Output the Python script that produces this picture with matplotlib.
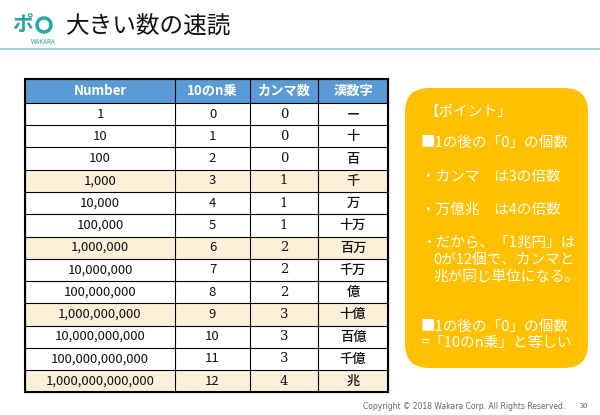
import matplotlib.pyplot as plt
from matplotlib.patches import Rectangle, FancyBboxPatch, Circle

plt.rcParams['font.family'] = ['Noto Sans CJK JP', 'DejaVu Sans']

headers = ["Number", "10のn乗", "カンマ数", "漢数字"]
numbers = ["1", "10", "100", "1,000", "10,000", "100,000", "1,000,000",
           "10,000,000", "100,000,000", "1,000,000,000", "10,000,000,000",
           "100,000,000,000", "1,000,000,000,000"]
powers = [0, 1, 2, 3, 4, 5, 6, 7, 8, 9, 10, 11, 12]
commas = [0, 0, 0, 1, 1, 1, 2, 2, 2, 3, 3, 3, 4]
kanji = ["ー", "十", "百", "千", "万", "十万", "百万", "千万", "億", "十億", "百億", "千億", "兆"]
highlight = {3, 6, 9, 12}

fig = plt.figure(figsize=(6, 4.15), dpi=100)
ax = fig.add_axes([0, 0, 1, 1])
ax.set_xlim(0, 600)
ax.set_ylim(415, 0)
ax.axis('off')

# title bar
ax.plot([0, 600], [49, 49], color='#9FD3D3', lw=1.5)
ax.text(66, 27, "大きい数の速読", fontsize=17, va='center', ha='left', color='#111111')
ax.add_patch(Circle((44, 25), 7, fill=False, ec='#2AA5A5', lw=2.5))
ax.text(23, 24, "ポ", fontsize=15, color='#2AA5A5', va='center', ha='center', fontweight='bold')
ax.text(43, 42, "WAKARA", fontsize=4.5, color='#2AA5A5', va='center', ha='center')

# table
cols = [25, 175, 250, 318, 388]
top, hh, rh = 79, 24, 22.25
ax.add_patch(Rectangle((cols[0], top), cols[-1] - cols[0], hh, fc='#5B9BD5', ec='none'))
for j, h in enumerate(headers):
    ax.text((cols[j] + cols[j + 1]) / 2, top + hh / 2, h, color='white', fontsize=9.5,
            fontweight='bold', ha='center', va='center')
for i in range(len(numbers)):
    y = top + hh + i * rh
    fc = '#FDF0D8' if i in highlight else 'white'
    ax.add_patch(Rectangle((cols[0], y), cols[-1] - cols[0], rh, fc=fc, ec='none'))
    vals = [numbers[i], str(powers[i]), str(commas[i]), kanji[i]]
    for j, v in enumerate(vals):
        kw = dict(family='DejaVu Serif') if j == 2 else {}
        ax.text((cols[j] + cols[j + 1]) / 2, y + rh / 2, v, fontsize=9.5, ha='center',
                va='center', color='#111111', fontweight='medium' if j == 3 else 'normal', **kw)
bottom = top + hh + len(numbers) * rh
for i in range(len(numbers) + 2):
    y = top if i == 0 else top + hh + (i - 1) * rh
    ax.plot([cols[0], cols[-1]], [y, y], color='black', lw=0.8)
for x in cols:
    ax.plot([x, x], [top, bottom], color='black', lw=0.8)
ax.add_patch(Rectangle((cols[0], top), cols[-1] - cols[0], bottom - top, fill=False, ec='black', lw=1.5))

# point box
ax.add_patch(FancyBboxPatch((405, 88), 183, 280, boxstyle="round,pad=0,rounding_size=24",
                            fc='#FFC000', ec='none'))
lines = [(424, 112, "【ポイント」"), (421, 143, "■1の後の「0」の個数"),
         (421, 177, "・カンマ　は3の倍数"), (421, 210, "・万億兆　は4の倍数"),
         (421, 243, "・だから、「1兆円」は"), (433, 260, "0が12個で、カンマと"),
         (433, 277, "兆が同じ単位になる。"),
         (421, 327, "■1の後の「0」の個数"), (421, 343, "=「10のn乗」と等しい")]
for x, y, t in lines:
    ax.text(x, y, t, fontsize=10.5, color='white', ha='left', va='center')

ax.text(363, 406, "Copyright © 2018 Wakara Corp. All Rights Reserved.", fontsize=5.5,
        color='#666666', ha='left', va='center', family='DejaVu Sans')
ax.text(588, 406, "30", fontsize=5.5, color='#666666', ha='right', va='center')

fig.savefig("out.png", dpi=100)
